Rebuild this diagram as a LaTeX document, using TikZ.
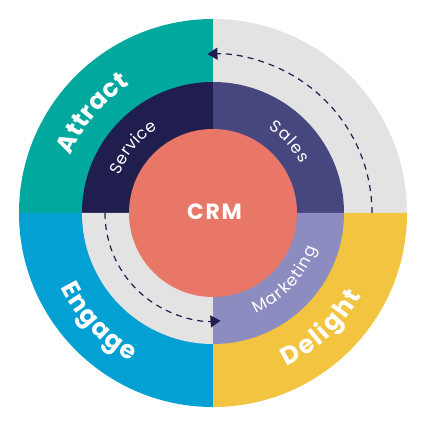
\documentclass[tikz,border=0pt]{standalone}
\usepackage{fontspec}
\setmainfont{Poppins}
\usepackage{tikz}
\usetikzlibrary{arrows.meta, decorations.text}

\definecolor{attractteal}{HTML}{00A89D}
\definecolor{engageblue}{HTML}{03A0D3}
\definecolor{delightyellow}{HTML}{F2C440}
\definecolor{flywheelgray}{HTML}{E3E3E3}
\definecolor{servicenavy}{HTML}{201D4F}
\definecolor{salespurple}{HTML}{47477F}
\definecolor{marketinglilac}{HTML}{8D8CC0}
\definecolor{crmsalmon}{HTML}{E97767}

\newcommand{\outerfont}{\fontsize{25}{29}\selectfont\bfseries}
\newcommand{\innerfont}{\fontsize{16.5}{20}\selectfont}

\tikzset{
  ringtext/.style={decorate,
                   decoration={text along path,
                               text color=white,
                               text align=fit to path,
                               text={#1}}},
  flowarrow/.style={draw=servicenavy,
                    line width=1.2pt,
                    dash pattern=on 6pt off 5pt,
                    -{Triangle[length=10pt, width=12pt]}}
}

\begin{document}
\begin{tikzpicture}[x=1pt, y=1pt]
    \useasboundingbox (-213,-212) rectangle (212,213);
    % outer ring
    \foreach \ang/\col in {90/attractteal, 0/flywheelgray, 180/engageblue, 270/delightyellow}
        \fill[\col] (0,0) -- (\ang:194) arc[start angle=\ang, end angle=\ang+90, radius=194] -- cycle;
    % middle ring
    \foreach \ang/\col in {90/servicenavy, 0/salespurple, 180/flywheelgray, 270/marketinglilac}
        \fill[\col] (0,0) -- (\ang:131) arc[start angle=\ang, end angle=\ang+90, radius=131] -- cycle;
    % core
    \node (crm) [circle,
                 fill=crmsalmon,
                 inner sep=0pt,
                 minimum size=168pt] at (0,0) {};
    \node [text=white, xshift=1.5pt, yshift=1.7pt] at (crm.center)
        {\fontsize{22}{26}\selectfont\bfseries\addfontfeatures{LetterSpace=8}CRM};
    % stage labels
    \path[ringtext={|\outerfont|Attract}] (158:153) arc[start angle=158, end angle=123, radius=153];
    \path[ringtext={|\outerfont|Engage}] (206:170) arc[start angle=206, end angle=241, radius=170];
    \path[ringtext={|\outerfont|Delight}] (295.5:170) arc[start angle=295.5, end angle=331, radius=170];
    \path[ringtext={|\innerfont|Service}] (158:101) arc[start angle=158, end angle=123, radius=101];
    \path[ringtext={|\innerfont|Sales}] (57:101) arc[start angle=57, end angle=29, radius=101];
    \path[ringtext={|\innerfont|Marketing}] (293:109) arc[start angle=293, end angle=341, radius=109];
    % flow arrows
    \draw[flowarrow] (0:159) arc[start angle=0, end angle=92, radius=159];
    \draw[flowarrow] (180:108) arc[start angle=180, end angle=274, radius=108];
\end{tikzpicture}
\end{document}
